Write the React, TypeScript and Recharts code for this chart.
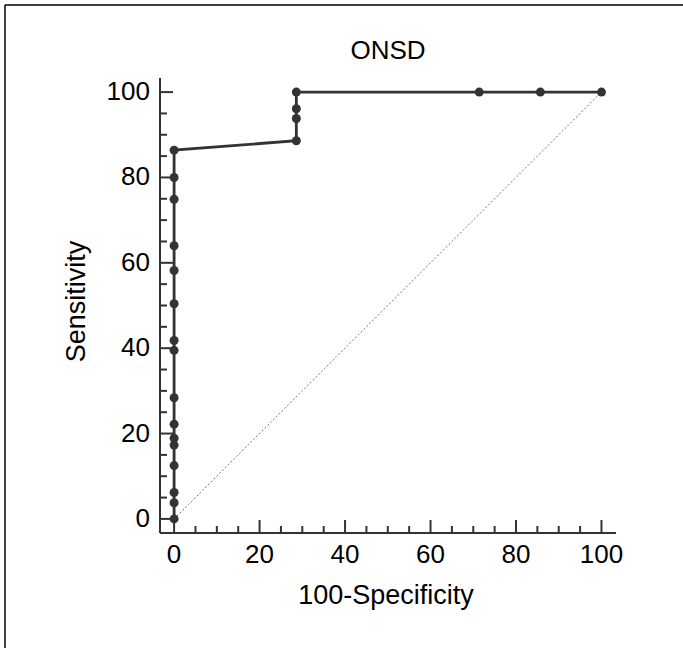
import React from "react";
import { ScatterChart, Scatter, XAxis, YAxis, ReferenceLine } from "recharts";

const falsePositiveRate = [0, 0, 0, 0, 0, 0, 0, 0, 0, 0, 0, 0, 0, 0, 0, 0, 28.6, 28.6, 28.6, 28.6, 71.4, 85.7, 100];
const sensitivity = [0, 3.8, 6.2, 12.5, 17.3, 18.9, 22.2, 28.4, 39.5, 41.8, 50.4, 58.2, 64.0, 74.9, 80.0, 86.4, 88.6, 93.8, 96.1, 100, 100, 100, 100];
const axisTicks = [0, 5, 10, 15, 20, 25, 30, 35, 40, 45, 50, 55, 60, 65, 70, 75, 80, 85, 90, 95, 100];
const title = "ONSD";
const xLabel = "100-Specificity";
const yLabel = "Sensitivity";

const rocData = falsePositiveRate.map((x, i) => ({ x, y: sensitivity[i] }));

const FONT = "'Liberation Sans', Arial, sans-serif";
const INK = "#333";

const XTick = (props: any) => {
  const { x, y, payload } = props;
  const major = payload.value % 20 === 0;
  return (
    <g>
      <line x1={x} x2={x} y1={y} y2={y - (major ? 13 : 7)} stroke={INK} strokeWidth={2} />
      {major && (
        <text x={x} y={y + 30} textAnchor="middle" fontFamily={FONT} fontSize={26} fill="#000">
          {payload.value}
        </text>
      )}
    </g>
  );
};

const YTick = (props: any) => {
  const { x, y, payload } = props;
  const major = payload.value % 20 === 0;
  return (
    <g>
      <line x1={x} x2={x + (major ? 13 : 7)} y1={y} y2={y} stroke={INK} strokeWidth={2} />
      {major && (
        <text x={x - 10} y={y + 8} textAnchor="end" fontFamily={FONT} fontSize={26} fill="#000">
          {payload.value}
        </text>
      )}
    </g>
  );
};

const Dot = (props: any) => <circle cx={props.cx} cy={props.cy} r={4.5} fill={INK} />;

export default function App() {
  return (
    <div style={{ position: "absolute", left: 0, top: 0, width: 683, height: 648, background: "#fff" }}>
      <ScatterChart width={683} height={648} margin={{ top: 78, right: 67, bottom: 35, left: 60 }}>
        <XAxis
          type="number"
          dataKey="x"
          domain={[-3.3, 103.4]}
          ticks={axisTicks}
          interval={0}
          tickSize={0}
          tickMargin={0}
          tickLine={false}
          height={80}
          axisLine={{ stroke: INK, strokeWidth: 2 }}
          tick={<XTick />}
          allowDataOverflow
          label={{
            content: (p: any) => {
              const vb = p.viewBox;
              return (
                <text x={vb.x + vb.width / 2 - 2} y={vb.y + 71} textAnchor="middle" fontFamily={FONT} fontSize={27} fill="#000">
                  {xLabel}
                </text>
              );
            },
          }}
        />
        <YAxis
          type="number"
          dataKey="y"
          domain={[-3.3, 103.3]}
          ticks={axisTicks}
          interval={0}
          tickSize={0}
          tickMargin={0}
          tickLine={false}
          width={100}
          axisLine={{ stroke: INK, strokeWidth: 2 }}
          tick={<YTick />}
          allowDataOverflow
          label={{
            content: (p: any) => {
              const vb = p.viewBox;
              const cx = 85;
              const cy = vb.y + vb.height / 2 - 4;
              return (
                <text x={cx} y={cy} transform={`rotate(-90 ${cx} ${cy})`} textAnchor="middle" fontFamily={FONT} fontSize={27} fill="#000">
                  {yLabel}
                </text>
              );
            },
          }}
        />
        <ReferenceLine
          segment={[{ x: 0, y: 0 }, { x: 100, y: 100 }]}
          stroke="#777"
          strokeWidth={1}
          strokeDasharray="2 2"
          ifOverflow="visible"
        />
        <Scatter
          data={rocData}
          isAnimationActive={false}
          line={{ stroke: INK, strokeWidth: 2.8 }}
          shape={<Dot />}
        />
      </ScatterChart>
      <svg width={683} height={648} style={{ position: "absolute", left: 0, top: 0, pointerEvents: "none" }}>
        <line x1={5} y1={5} x2={683} y2={5} stroke="#000" strokeWidth={1.5} />
        <line x1={5} y1={5} x2={5} y2={648} stroke="#000" strokeWidth={1.5} />
        <text x={388} y={59} textAnchor="middle" fontFamily={FONT} fontSize={26} fill="#000">
          {title}
        </text>
      </svg>
    </div>
  );
}
